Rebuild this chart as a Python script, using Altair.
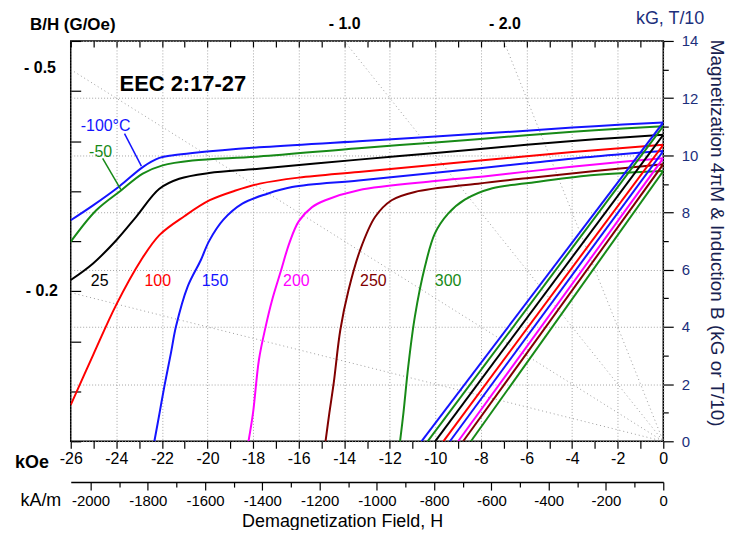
import altair as alt
import pandas as pd

FONT = "Liberation Sans"
NAVY = "#1c2f7c"
KAM_PER_KOE = 79.5775

# ---------------- data ----------------
temps = ["-100", "-50", "25", "100", "150", "200", "250", "300"]
colors = ["#1414ff", "#178a17", "#000000", "#ff0000", "#1414ff", "#ff00ff", "#800000", "#178a17"]

# intrinsic curves 4piM (kG) vs H (kOe)
h_m100 = [-26, -25.02, -23.86, -22.84, -22.11, -21.5, -20.66, -17.74, -13.37, -10, -6, -3, 0]
m_m100 = [7.73, 8.25, 8.92, 9.59, 9.91, 10.0, 10.08, 10.28, 10.49, 10.66, 10.86, 11.02, 11.15]
h_m50 = [-26, -24.88, -23.78, -22.84, -21.97, -20.66, -17.74, -13.37, -10, -6, -3, 0]
m_m50 = [6.98, 8.08, 8.78, 9.36, 9.65, 9.82, 9.96, 10.25, 10.45, 10.7, 10.88, 11.02]
h_25 = [-26, -25.02, -24.0, -23.13, -22.11, -21.24, -19.93, -17.74, -13.37, -10, -6, -3, 0]
m_25 = [5.64, 6.22, 7.03, 7.85, 8.83, 9.18, 9.38, 9.53, 9.85, 10.08, 10.37, 10.56, 10.72]
h_100 = [-26, -25, -24, -22.91, -22.1, -21, -19.9, -18.8, -17.7, -16, -13.37, -10, -6, -3, 0]
m_100 = [1.27, 3.05, 4.78, 6.34, 7.22, 7.88, 8.43, 8.76, 9.01, 9.22, 9.42, 9.67, 9.97, 10.18, 10.37]
h_150 = [-22.33, -22.1, -21.89, -21.6, -21.38, -20.87, -20.29, -19.93, -19.3, -18.47, -17.4, -16.29, -13.37, -10, -6, -3, 0]
m_150 = [0, 1.0, 1.93, 3.1, 4.02, 5.41, 6.34, 7.0, 7.75, 8.31, 8.65, 8.89, 9.12, 9.39, 9.72, 9.96, 10.15]
h_200 = [-18.2, -18.0, -17.74, -17.45, -17.16, -16.8, -16.4, -15.99, -15.41, -14.83, -13.37, -10, -8.13, -6, -3, 0]
m_200 = [0, 1.0, 2.86, 4.0, 4.95, 5.9, 6.95, 7.7, 8.19, 8.43, 8.78, 9.1, 9.24, 9.43, 9.68, 9.9]
h_250 = [-14.82, -14.65, -14.46, -14.17, -13.81, -13.3, -12.64, -11.92, -10.9, -8.13, -6, -3, 0]
m_250 = [0, 1.0, 2.04, 3.9, 5.29, 6.69, 7.85, 8.43, 8.72, 9.01, 9.2, 9.45, 9.69]
h_300 = [-11.55, -11.4, -11.19, -10.9, -10.46, -10.02, -9.44, -8.71, -7.5, -6, -3.18, 0]
m_300 = [0, 1.0, 2.62, 4.36, 6.1, 7.27, 7.96, 8.45, 8.85, 9.02, 9.3, 9.45]

intrinsic_h = [h_m100, h_m50, h_25, h_100, h_150, h_200, h_250, h_300]
intrinsic_m = [m_m100, m_m50, m_25, m_100, m_150, m_200, m_250, m_300]

# normal (induction) curves: straight from (Hcb, 0) to (0, Br)
br = [11.15, 11.02, 10.72, 10.37, 10.15, 9.9, 9.69, 9.45]
hcb = [-10.61, -10.34, -10.01, -9.65, -9.36, -9.0, -8.78, -8.44]

# curve labels
label_text = ["-100°C", "-50", "25", "100", "150", "200", "250", "300"]
label_h = [-24.47, -24.69, -24.73, -22.18, -19.67, -16.1, -12.72, -9.44]
label_b = [11.04, 10.1, 5.61, 5.61, 5.61, 5.61, 5.61, 5.61]

# label pointers
pointer_temp = ["-100", "-50"]
pointer_h1 = [-23.64, -24.6]
pointer_b1 = [10.76, 9.89]
pointer_h2 = [-22.9, -23.8]
pointer_b2 = [9.62, 8.8]

# load lines B/H
load_slopes = [0.2, 0.5, 1.0, 2.0]

# axes values
x_major = list(range(-26, 1, 2))
x_minor = list(range(-25, 0, 2))
x_top = list(range(-26, 1))
y_major = list(range(0, 15, 2))
y_minor = list(range(1, 14, 2))
y_left = [1.75 * i for i in range(0, 9)]
kam_major = list(range(-2000, 1, 200))
kam_minor = list(range(-1900, 0, 200))

# annotations
ann_text = ["EEC 2:17-27", "B/H (G/Oe)", "- 1.0", "- 2.0", "- 0.5", "- 0.2",
            "kG, T/10", "kOe", "kA/m", "Demagnetization Field, H",
            "Magnetization 4\u03c0M & Induction B (kG or T/10)"]
ann_x = [-21.08, -25.91, -13.98, -6.95, -27.35, -27.27, 0.30, -27.70, -27.31, -14.07, 2.36]
ann_y = [12.51, 14.56, 14.59, 14.59, 13.06, 5.26, 14.76, -0.77, -2.09, -2.84, 7.28]

# ---------------- build tables ----------------
rows = []
for t, hs, ms in zip(temps, intrinsic_h, intrinsic_m):
    for h, m in zip(hs, ms):
        rows.append({"temp": t, "h": h, "m": m})
df_int = pd.DataFrame(rows)

rows = []
for t, b, h in zip(temps, br, hcb):
    rows.append({"temp": t, "h": h, "m": 0.0})
    rows.append({"temp": t, "h": 0.0, "m": b})
df_b = pd.DataFrame(rows)

rows = []
for s in load_slopes:
    rows.append({"s": s, "h": 0.0, "m": 0.0})
    rows.append({"s": s, "h": -26.0, "m": 26.0 * s})
df_load = pd.DataFrame(rows)

df_lab = pd.DataFrame({"temp": temps, "text": label_text, "h": label_h, "m": label_b})
df_ptr = pd.DataFrame({"temp": pointer_temp, "h": pointer_h1, "m": pointer_b1,
                       "h2": pointer_h2, "m2": pointer_b2})

xs = alt.Scale(domain=[-26, 0], nice=False, zero=False)
ys = alt.Scale(domain=[0, 14], nice=False, zero=False)
cs = alt.Scale(domain=temps, range=colors)

GRID = dict(gridColor="#a4a4a4", gridDash=[1, 2], gridWidth=1)

ax_bottom_major = alt.Axis(orient="bottom", values=x_major, labelExpr="'' + datum.value",
                           labelFontSize=16, labelFont=FONT, labelColor="black",
                           tickSize=7, tickColor="black", labelPadding=2, domain=False,
                           grid=True, labelFlush=False, labelOverlap=False, title=None, **GRID)
ax_bottom_minor = alt.Axis(orient="bottom", values=x_minor, labels=False, tickSize=7,
                           tickColor="black", domain=False, grid=False, title=None)
ax_top = alt.Axis(orient="top", values=x_top, labels=False, tickSize=6, offset=-6,
                  tickColor="black", domain=False, grid=False, title=None)
ax_kam = alt.Axis(orient="bottom", offset=41, values=[v / KAM_PER_KOE for v in kam_major],
                  labelExpr="'' + round(datum.value * 79.5775)", labelFontSize=15,
                  labelFont=FONT, labelColor="black", tickSize=8, tickColor="black",
                  labelPadding=3, domain=True, domainColor="black", domainWidth=1.5,
                  grid=False, labelFlush=False, labelOverlap=False, title=None)
ax_kam_minor = alt.Axis(orient="bottom", offset=41, values=[v / KAM_PER_KOE for v in kam_minor],
                        labels=False, tickSize=5, tickColor="black", domain=False,
                        grid=False, title=None)
ax_left = alt.Axis(orient="left", values=y_left, labels=False, tickSize=10, offset=-10,
                   tickColor="black", domain=False, grid=False, title=None)
ax_right_major = alt.Axis(orient="right", values=y_major, labelColor=NAVY, labelFontSize=15,
                          labelFont=FONT, tickSize=10, tickColor="black", labelPadding=8,
                          domain=False, grid=True, labelFlush=False, title=None, **GRID)
ax_right_minor = alt.Axis(orient="right", values=y_minor, labels=False, tickSize=5,
                          tickColor="black", domain=False, grid=False, title=None)

load = alt.Chart(df_load).mark_line(clip=True, color="#9c9c9c", strokeDash=[1, 3],
                                    strokeWidth=1).encode(
    x=alt.X("h:Q", scale=xs, axis=ax_bottom_major),
    y=alt.Y("m:Q", scale=ys, axis=ax_left),
    detail="s:N",
)

intrinsic = alt.Chart(df_int).mark_line(interpolate="catmull-rom", strokeWidth=2, clip=True).encode(
    x=alt.X("h:Q", scale=xs, axis=ax_top),
    y=alt.Y("m:Q", scale=ys, axis=ax_right_major),
    color=alt.Color("temp:N", scale=cs, legend=None),
    detail="temp:N",
)

normal = alt.Chart(df_b).mark_line(strokeWidth=2, clip=True).encode(
    x=alt.X("h:Q", scale=xs, axis=ax_kam),
    y=alt.Y("m:Q", scale=ys, axis=ax_right_minor),
    color=alt.Color("temp:N", scale=cs, legend=None),
    detail="temp:N",
)

labels = alt.Chart(df_lab).mark_text(font=FONT, fontSize=16, align="center",
                                     baseline="middle").encode(
    x=alt.X("h:Q", scale=xs, axis=ax_bottom_minor),
    y=alt.Y("m:Q", scale=ys, axis=None),
    text="text:N",
    color=alt.Color("temp:N", scale=cs, legend=None),
)

pointers = alt.Chart(df_ptr).mark_rule(strokeWidth=1.5).encode(
    x=alt.X("h:Q", scale=xs, axis=ax_kam_minor),
    y=alt.Y("m:Q", scale=ys, axis=None),
    x2="h2:Q",
    y2="m2:Q",
    color=alt.Color("temp:N", scale=cs, legend=None),
)

ann_style = [
    dict(fontSize=22, fontWeight="bold", color="black"),
    dict(fontSize=17, fontWeight="bold", color="black"),
    dict(fontSize=16, fontWeight="bold", color="black"),
    dict(fontSize=16, fontWeight="bold", color="black"),
    dict(fontSize=16, fontWeight="bold", color="black"),
    dict(fontSize=16, fontWeight="bold", color="black"),
    dict(fontSize=18, fontWeight="normal", color=NAVY),
    dict(fontSize=18, fontWeight="bold", color="black"),
    dict(fontSize=18, fontWeight="normal", color="black"),
    dict(fontSize=18, fontWeight="normal", color="black"),
    dict(fontSize=19, fontWeight="normal", color="#17214f", angle=90),
]

ann_layers = []
for t, x, y, st in zip(ann_text, ann_x, ann_y, ann_style):
    d = pd.DataFrame({"h": [x], "m": [y], "t": [t]})
    ann_layers.append(
        alt.Chart(d).mark_text(font=FONT, align="center", baseline="middle", **st).encode(
            x=alt.X("h:Q", scale=xs, axis=None),
            y=alt.Y("m:Q", scale=ys, axis=None),
            text="t:N",
        )
    )

chart = alt.layer(load, intrinsic, normal, labels, pointers, *ann_layers).resolve_axis(
    x="independent", y="independent"
).properties(
    width=595,
    height=402,
    autosize=alt.AutoSizeParams(type="none"),
    padding={"left": 63, "top": 32, "right": 66, "bottom": 88},
    background="white",
).configure_view(
    stroke="black", strokeWidth=1.5
).configure_axis(
    labelFont=FONT, tickWidth=1.2
)

chart.save("out.html", embed_options={"renderer": "svg", "actions": False})
